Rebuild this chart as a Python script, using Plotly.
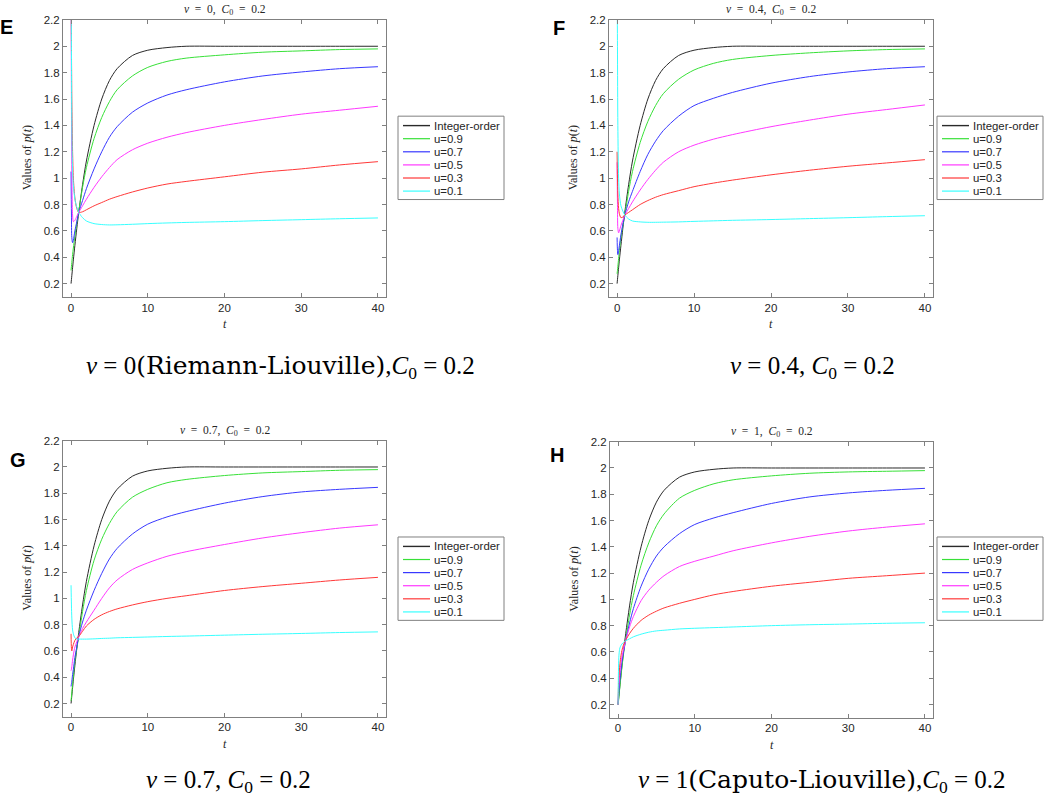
import plotly.graph_objects as go

# shared time samples
t = [0, 0.05, 0.1, 0.2, 0.3, 0.5, 0.75, 1, 1.5, 2, 3, 4, 5, 6, 8, 10, 12.5, 15, 20, 25, 30, 35, 40]

# integer-order solution (same in every panel)
p_int = [0.2, 0.23, 0.26, 0.32, 0.38, 0.49, 0.62, 0.74, 0.95, 1.13, 1.40, 1.60, 1.74, 1.83, 1.93, 1.97, 1.99, 2.0, 2.0, 2.0, 2.0, 2.0, 2.0]

# panel E: nu = 0
E_u09 = [0.30, 0.33, 0.36, 0.42, 0.47, 0.56, 0.66, 0.75, 0.93, 1.08, 1.30, 1.46, 1.58, 1.67, 1.775, 1.84, 1.885, 1.91, 1.935, 1.955, 1.965, 1.975, 1.98]
E_u07 = [1.05, 0.72, 0.55, 0.51, 0.53, 0.60, 0.67, 0.74, 0.83, 0.92, 1.07, 1.20, 1.31, 1.39, 1.50, 1.57, 1.63, 1.67, 1.73, 1.775, 1.805, 1.83, 1.845]
E_u05 = [2.5, 1.6, 1.05, 0.72, 0.67, 0.68, 0.71, 0.74, 0.79, 0.84, 0.93, 1.01, 1.08, 1.14, 1.215, 1.265, 1.31, 1.345, 1.40, 1.445, 1.485, 1.515, 1.545]
E_u03 = [2.5, 2.0, 1.6, 1.2, 1.0, 0.85, 0.77, 0.74, 0.745, 0.76, 0.79, 0.815, 0.84, 0.86, 0.895, 0.925, 0.955, 0.975, 1.01, 1.045, 1.07, 1.10, 1.125]
E_u01 = [2.6, 2.0, 1.4, 1.05, 0.95, 0.84, 0.78, 0.74, 0.70, 0.675, 0.655, 0.648, 0.645, 0.646, 0.65, 0.655, 0.66, 0.664, 0.67, 0.678, 0.685, 0.692, 0.698]

# panel F: nu = 0.4
F_u09 = [0.275, 0.30, 0.33, 0.39, 0.45, 0.55, 0.64, 0.72, 0.90, 1.05, 1.27, 1.43, 1.55, 1.64, 1.75, 1.82, 1.87, 1.90, 1.93, 1.95, 1.965, 1.975, 1.98]
F_u07 = [0.55, 0.45, 0.42, 0.45, 0.49, 0.57, 0.65, 0.72, 0.82, 0.90, 1.05, 1.18, 1.28, 1.36, 1.47, 1.55, 1.605, 1.65, 1.72, 1.77, 1.805, 1.83, 1.845]
F_u05 = [1.12, 0.80, 0.62, 0.585, 0.60, 0.64, 0.68, 0.72, 0.77, 0.82, 0.91, 0.99, 1.06, 1.12, 1.20, 1.25, 1.295, 1.33, 1.39, 1.44, 1.485, 1.52, 1.555]
F_u03 = [1.2, 1.0, 0.88, 0.77, 0.73, 0.70, 0.705, 0.72, 0.74, 0.76, 0.80, 0.83, 0.855, 0.875, 0.905, 0.935, 0.962, 0.985, 1.025, 1.06, 1.09, 1.115, 1.14]
F_u01 = [2.6, 2.0, 1.4, 1.0, 0.88, 0.79, 0.75, 0.72, 0.69, 0.675, 0.668, 0.665, 0.665, 0.666, 0.668, 0.672, 0.676, 0.68, 0.686, 0.693, 0.70, 0.708, 0.715]

# panel G: nu = 0.7
G_u09 = [0.22, 0.25, 0.28, 0.35, 0.41, 0.52, 0.62, 0.71, 0.90, 1.06, 1.29, 1.45, 1.57, 1.66, 1.77, 1.83, 1.88, 1.905, 1.935, 1.955, 1.965, 1.975, 1.98]
G_u07 = [0.33, 0.35, 0.37, 0.42, 0.46, 0.55, 0.63, 0.71, 0.82, 0.91, 1.06, 1.19, 1.30, 1.38, 1.49, 1.565, 1.62, 1.66, 1.725, 1.775, 1.81, 1.83, 1.845]
G_u05 = [0.45, 0.46, 0.48, 0.53, 0.57, 0.63, 0.67, 0.71, 0.77, 0.82, 0.91, 1.00, 1.08, 1.14, 1.22, 1.27, 1.32, 1.355, 1.41, 1.46, 1.50, 1.535, 1.56]
G_u03 = [0.73, 0.62, 0.60, 0.63, 0.65, 0.68, 0.70, 0.71, 0.75, 0.79, 0.84, 0.875, 0.90, 0.92, 0.95, 0.975, 1.00, 1.02, 1.06, 1.09, 1.115, 1.14, 1.16]
G_u01 = [1.1, 0.95, 0.85, 0.76, 0.73, 0.70, 0.69, 0.69, 0.69, 0.69, 0.692, 0.695, 0.697, 0.70, 0.703, 0.706, 0.71, 0.713, 0.72, 0.727, 0.733, 0.74, 0.745]

# panel H: nu = 1
H_u09 = [0.2, 0.22, 0.25, 0.31, 0.37, 0.48, 0.60, 0.70, 0.88, 1.03, 1.26, 1.43, 1.56, 1.65, 1.77, 1.83, 1.88, 1.91, 1.94, 1.96, 1.97, 1.975, 1.98]
H_u07 = [0.2, 0.25, 0.29, 0.36, 0.42, 0.52, 0.61, 0.69, 0.82, 0.93, 1.10, 1.23, 1.33, 1.40, 1.50, 1.57, 1.62, 1.66, 1.73, 1.78, 1.81, 1.83, 1.845]
H_u05 = [0.2, 0.29, 0.34, 0.42, 0.48, 0.56, 0.63, 0.69, 0.79, 0.87, 0.99, 1.07, 1.13, 1.18, 1.25, 1.29, 1.33, 1.37, 1.43, 1.48, 1.52, 1.55, 1.575]
H_u03 = [0.2, 0.33, 0.40, 0.48, 0.54, 0.61, 0.66, 0.69, 0.74, 0.78, 0.84, 0.88, 0.91, 0.935, 0.97, 1.0, 1.035, 1.06, 1.10, 1.13, 1.16, 1.18, 1.20]
H_u01 = [0.2, 0.45, 0.56, 0.62, 0.64, 0.66, 0.675, 0.685, 0.70, 0.715, 0.735, 0.75, 0.76, 0.765, 0.775, 0.78, 0.785, 0.79, 0.80, 0.807, 0.812, 0.818, 0.822]

names = ["Integer-order", "u=0.9", "u=0.7", "u=0.5", "u=0.3", "u=0.1"]
colors = ["#2a2a2a", "#38e038", "#3838ff", "#ff38ff", "#ff3838", "#38ffff"]
xticks = [0, 10, 20, 30, 40]
yticks = [0.2, 0.4, 0.6, 0.8, 1, 1.2, 1.4, 1.6, 1.8, 2, 2.2]

SP = "\u2002"  # wider spacing like LaTeX around '='
word = "<span style='font-family:DejaVu Serif'>({})</span>"
panels = [
    dict(letter="E", title=f"<i>ν</i>{SP}={SP}0,{SP}<i>C</i><sub>0</sub>{SP}={SP}0.2",
         caption="<i>ν</i> = 0" + word.format("Riemann-Liouville") + ",<i>C</i><sub>0</sub> = 0.2",
         series=[p_int, E_u09, E_u07, E_u05, E_u03, E_u01]),
    dict(letter="F", title=f"<i>ν</i>{SP}={SP}0.4,{SP}<i>C</i><sub>0</sub>{SP}={SP}0.2",
         caption="<i>ν</i> = 0.4, <i>C</i><sub>0</sub> = 0.2",
         series=[p_int, F_u09, F_u07, F_u05, F_u03, F_u01]),
    dict(letter="G", title=f"<i>ν</i>{SP}={SP}0.7,{SP}<i>C</i><sub>0</sub>{SP}={SP}0.2",
         caption="<i>ν</i> = 0.7, <i>C</i><sub>0</sub> = 0.2",
         series=[p_int, G_u09, G_u07, G_u05, G_u03, G_u01]),
    dict(letter="H", title=f"<i>ν</i>{SP}={SP}1,{SP}<i>C</i><sub>0</sub>{SP}={SP}0.2",
         caption="<i>ν</i> = 1" + word.format("Caputo-Liouville") + ",<i>C</i><sub>0</sub> = 0.2",
         series=[p_int, H_u09, H_u07, H_u05, H_u03, H_u01]),
]

W, H = 1052, 800
# plot boxes in pixels: left, right, top, bottom
boxes = [(63, 386, 14, 293), (609, 933, 14, 293), (63, 386, 438, 716), (610, 933, 439, 717)]
legend_pos = [(398, 111), (937, 111), (398, 535), (937, 535)]
caption_pos = [(280, 364), (812, 364), (228, 781), (822, 781)]
letter_pos = [(6, 21), (559, 22), (18, 457), (557, 452)]
xtitle_y = [320, 320, 744, 745]

SERIF = "Liberation Serif"
SANS = "Liberation Sans"
TXT = "#262626"
AX = "#808080"


def px(x):
    return x / W


def py(y):
    return 1 - y / H


fig = go.Figure()
annotations = []
shapes = []

for i, p in enumerate(panels):
    n = i + 1
    xa = "x" if n == 1 else f"x{n}"
    ya = "y" if n == 1 else f"y{n}"
    for name, col, vals in zip(names, colors, p["series"]):
        fig.add_trace(go.Scatter(
            x=t, y=vals, mode="lines", name=name,
            line=dict(color=col, width=1, shape="spline", smoothing=0.8),
            xaxis=xa, yaxis=ya, showlegend=False,
        ))

    l, r, tp, b = boxes[i]
    axis_common = dict(showline=True, linecolor=AX, linewidth=1, mirror="ticks",
                       ticks="inside", ticklen=4, tickcolor=AX, showgrid=False,
                       zeroline=False, tickfont=dict(family=SANS, size=11.5, color=TXT))
    fig.update_layout({
        ("xaxis" if n == 1 else f"xaxis{n}"): dict(
            domain=[px(l), px(r)], range=[-1.05, 41.05], tickvals=xticks,
            anchor=ya, **axis_common),
        ("yaxis" if n == 1 else f"yaxis{n}"): dict(
            domain=[py(b), py(tp)], range=[0.1, 2.2], tickvals=yticks,
            anchor=xa, **axis_common),
    })

    # legend box drawn like the MATLAB one
    lx, ly = legend_pos[i]
    shapes.append(dict(type="rect", xref="paper", yref="paper",
                       x0=px(lx), x1=px(lx + 106), y0=py(ly), y1=py(ly + 84),
                       line=dict(color=AX, width=1), fillcolor="white", layer="above"))
    for k, (name, col) in enumerate(zip(names, colors)):
        yy = ly + 9.5 + 13.2 * k
        shapes.append(dict(type="line", xref="paper", yref="paper",
                           x0=px(lx + 5), x1=px(lx + 32), y0=py(yy), y1=py(yy),
                           line=dict(color=col, width=1.2 if k else 1.4), layer="above"))
        annotations.append(dict(x=px(lx + 34), y=py(yy), xref="paper", yref="paper",
                                text=name, showarrow=False, xanchor="left", yanchor="middle",
                                font=dict(family=SANS, size=11.4, color=TXT)))

    cx = (l + r) / 2
    # small title above the box
    annotations.append(dict(x=px(cx), y=py(tp - 1), xref="paper", yref="paper",
                            text=p["title"], showarrow=False, xanchor="center", yanchor="bottom",
                            font=dict(family=SERIF, size=11.5, color=TXT)))
    # axis titles
    annotations.append(dict(x=px(cx), y=py(xtitle_y[i]), xref="paper", yref="paper",
                            text="<i>t</i>", showarrow=False, xanchor="center", yanchor="middle",
                            font=dict(family=SERIF, size=12, color=TXT)))
    annotations.append(dict(x=px(l - 36), y=py((tp + b) / 2), xref="paper", yref="paper",
                            text="Values of <i>p</i>(<i>t</i>)", textangle=-90, showarrow=False,
                            xanchor="center", yanchor="middle",
                            font=dict(family=SERIF, size=12, color=TXT)))
    # caption under the panel
    ccx, ccy = caption_pos[i]
    annotations.append(dict(x=px(ccx), y=py(ccy), xref="paper", yref="paper",
                            text=p["caption"], showarrow=False, xanchor="center", yanchor="middle",
                            font=dict(family=SERIF, size=25, color="black")))
    # panel letter
    lx_, ly_ = letter_pos[i]
    annotations.append(dict(x=px(lx_), y=py(ly_), xref="paper", yref="paper",
                            text=f"<b>{p['letter']}</b>", showarrow=False,
                            xanchor="center", yanchor="middle",
                            font=dict(family=SANS, size=20, color="black")))

fig.update_layout(
    width=W, height=H,
    margin=dict(l=0, r=0, t=0, b=0),
    paper_bgcolor="white", plot_bgcolor="white",
    annotations=annotations, shapes=shapes,
)

# drop the page's default body margin so the figure sits at the window corner
fig.write_html("out.html", config={"displayModeBar": False},
               post_script="document.body.style.margin='0';")
